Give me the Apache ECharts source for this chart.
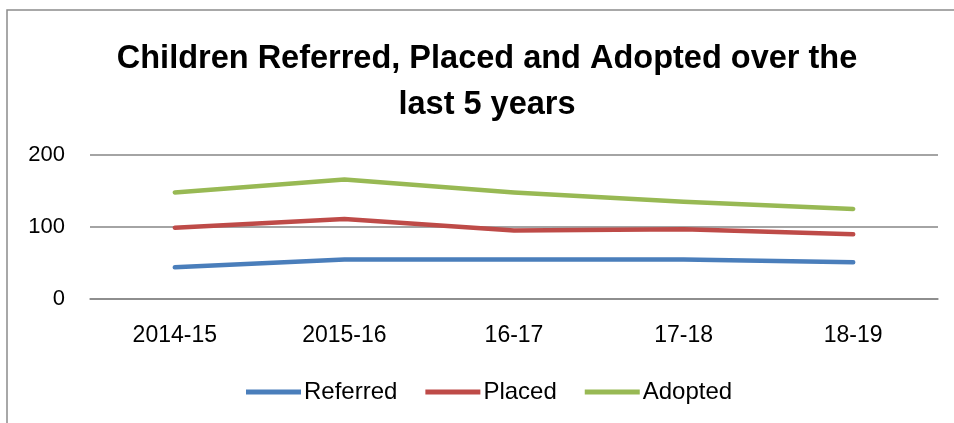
<!DOCTYPE html>
<html>
<head>
<meta charset="utf-8">
<script src="https://cdn.jsdelivr.net/npm/echarts@6/dist/echarts.min.js"></script>
<style>
  html, body { margin: 0; padding: 0; background: #fff; }
  #main { width: 954px; height: 423px; }
</style>
</head>
<body>
<div id="main"></div>
<script>
var years = ['2014-15', '2015-16', '16-17', '17-18', '18-19'];
var referred = [44, 55, 55, 55, 51];
var placed = [99, 111, 95, 97, 90];
var adopted = [148, 166, 148, 135, 125];
var yTicks = [0, 100, 200];

var font = '"Liberation Sans", Arial, sans-serif';

function lineSeries(name, data, color) {
    return {
        name: name,
        type: 'line',
        data: data,
        symbol: 'none',
        lineStyle: { width: 4.5, color: color, cap: 'round', join: 'round' },
        itemStyle: { color: color }
    };
}

var chart = echarts.init(document.getElementById('main'));
chart.setOption({
    animation: false,
    backgroundColor: '#fff',
    graphic: [
        {
            type: 'rect',
            shape: { x: 7, y: 10, width: 1000, height: 500 },
            style: { fill: 'none', stroke: '#8c8c8c', lineWidth: 1.5 }
        },
        {
            type: 'text',
            style: {
                x: 487, y: 36,
                text: 'Children Referred, Placed and Adopted over the\nlast 5 years',
                align: 'center',
                verticalAlign: 'top',
                font: 'bold 32.5px ' + font,
                lineHeight: 46,
                fill: '#000'
            }
        }
    ],
    grid: { left: 90, right: 16, top: 155, bottom: 124 },
    legend: {
        data: ['Referred', 'Placed', 'Adopted'],
        left: 246,
        top: 380,
        padding: 0,
        itemWidth: 55,
        itemHeight: 5,
        itemGap: 28,
        icon: 'rect',
        textStyle: { fontFamily: font, fontSize: 24, color: '#000', padding: [0, 0, 0, -2] }
    },
    xAxis: {
        type: 'category',
        data: years,
        boundaryGap: true,
        axisLine: { show: true, lineStyle: { color: '#868686', width: 1.5 } },
        axisTick: { show: false },
        axisLabel: { fontFamily: font, fontSize: 23, color: '#000', margin: 25 }
    },
    yAxis: {
        type: 'value',
        min: yTicks[0],
        max: yTicks[yTicks.length - 1],
        interval: 100,
        axisLine: { show: false },
        axisTick: { show: false },
        splitLine: { lineStyle: { color: '#868686', width: 1.5 } },
        axisLabel: { fontFamily: font, fontSize: 22, color: '#000', margin: 25 }
    },
    series: [
        lineSeries('Referred', referred, '#4a7ebb'),
        lineSeries('Placed', placed, '#be4b48'),
        lineSeries('Adopted', adopted, '#98b954')
    ]
});
</script>
</body>
</html>
